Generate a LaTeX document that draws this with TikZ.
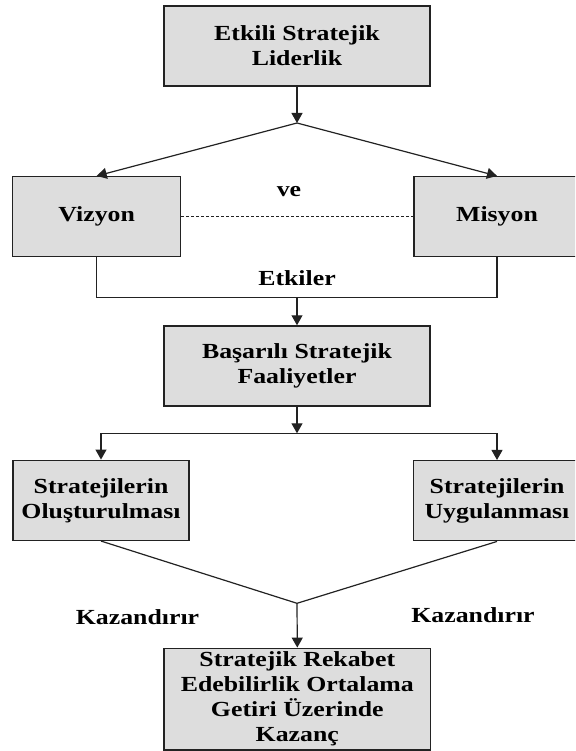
\documentclass[tikz,border=0pt]{standalone}
\usepackage{fontspec}
\setmainfont[FakeStretch=1.2]{Liberation Serif}
\usetikzlibrary{arrows.meta}
\definecolor{boxfill}{RGB}{221,221,221}
\definecolor{linec}{RGB}{34,34,34}
\tikzset{
  box/.style={draw=linec, line width=1.5pt, fill=boxfill, align=center, inner sep=0pt,
    font=\fontsize{21.5}{25}\selectfont\bfseries, text=black},
  lbl/.style={font=\fontsize{21.5}{25}\selectfont\bfseries, text=black, inner sep=0pt},
  conn/.style={draw=linec, line width=1.2pt},
  arr/.style={conn, -{Triangle[width=11pt,length=10pt]}},
  dots/.style={draw=linec, line width=1.4pt, dash pattern=on 3pt off 2pt}
}
\begin{document}
\begin{tikzpicture}[x=1pt,y=-1pt]
\useasboundingbox (0,0) rectangle (575,751);
\clip (0,0) rectangle (575,751);
% boxes
\node[box, minimum width=266pt, minimum height=80pt] (top) at (297,46) {Etkili Stratejik\\Liderlik};
\node[box, minimum width=168pt, minimum height=80pt] (viz) at (96.7,216.7) {Vizyon};
\node[box, minimum width=166pt, minimum height=80pt] (mis) at (497,216.7) {Misyon};
\node[box, minimum width=266pt, minimum height=80pt] (bas) at (297,366) {Başarılı Stratejik\\Faaliyetler};
\node[box, minimum width=176.3pt, minimum height=80pt] (olu) at (101,500.3) {Stratejilerin\\Oluşturulması};
\node[box, minimum width=167.4pt, minimum height=80pt] (uyg) at (497,500.7) {Stratejilerin\\Uygulanması};
\node[box, minimum width=266.7pt, minimum height=101.7pt] (bot) at (297.3,699.2) {Stratejik Rekabet\\Edebilirlik Ortalama\\Getiri Üzerinde\\Kazanç};
% junctions
\coordinate (j1) at (297,123);
\coordinate (ebar) at (297,297.3);
\coordinate (j2) at (297,433.3);
\coordinate (j3) at (297,603.3);
% labels
\node[lbl] (ve) at (289,192) {ve};
\node[lbl] (etk) at (297,278) {Etkiler};
\node[lbl] (kaz1) at (137.5,616.7) {Kazandırır};
\node[lbl] (kaz2) at (473,615) {Kazandırır};
% connectors
\draw[arr] (top.south) -- (j1);
\draw[arr] (j1) -- (viz.north);
\draw[arr] (j1) -- (mis.north);
\draw[dots] (viz.east) -- (mis.west);
\draw[conn] (viz.south) |- (ebar) -| (mis.south);
\draw[arr] (ebar) -- (bas.north);
\draw[arr] (bas.south) -- (j2);
\draw[arr] (j2) -| (olu.north);
\draw[arr] (j2) -| (uyg.north);
\draw[conn] (olu.south) -- (j3);
\draw[conn] (uyg.south) -- (j3);
\draw[arr] (j3) -- (bot.north);
\end{tikzpicture}
\end{document}
